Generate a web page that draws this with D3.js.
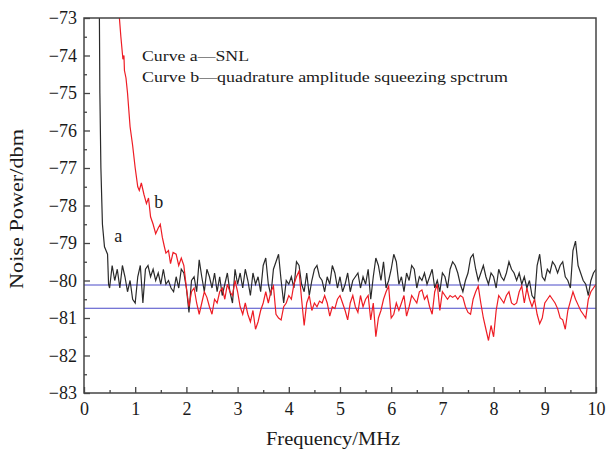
<!DOCTYPE html>
<html><head><meta charset="utf-8">
<script src="https://cdn.jsdelivr.net/npm/d3@7"></script>
<style>body{margin:0;background:#fff} svg text{font-family:"Liberation Serif","Times New Roman",serif !important;}</style>
</head><body>
<script>
const xTicks = [0,1,2,3,4,5,6,7,8,9,10];
const yTicks = [-83,-82,-81,-80,-79,-78,-77,-76,-75,-74,-73];
const xTitle = "Frequency/MHz";
const yTitle = "Noise Power/dbm";
const legendLines = ["Curve a\u2014SNL", "Curve b\u2014quadrature amplitude squeezing spctrum"];
const refLevels = [-80.12, -80.74];

// Curve a (SNL): [MHz, dBm]
const curveA = [
[0.30,-72.8],[0.31,-75],[0.33,-77],[0.36,-78.5],[0.40,-79.1],[0.43,-79.2],[0.46,-79.3],[0.48,-80.1],
[0.50,-80.2],[0.55,-79.6],[0.60,-80.0],[0.65,-79.7],[0.70,-80.2],[0.75,-79.6],[0.80,-79.9],[0.85,-80.3],[0.90,-80.0],[0.95,-80.5],
[1.00,-80.6],[1.05,-79.9],[1.10,-79.6],[1.15,-80.6],[1.20,-79.7],[1.25,-79.6],[1.30,-79.9],[1.35,-79.7],[1.40,-80.0],[1.45,-79.8],
[1.50,-80.1],[1.55,-79.7],[1.60,-80.1],[1.65,-80.0],[1.70,-80.2],[1.75,-80.3],[1.80,-79.9],[1.85,-80.2],[1.90,-79.7],[1.95,-79.8],
[2.00,-80.2],[2.05,-80.85],[2.10,-80.0],[2.15,-79.9],[2.20,-80.3],[2.25,-79.45],[2.30,-79.9],[2.35,-80.3],[2.40,-79.7],[2.45,-79.9],
[2.50,-80.2],[2.55,-79.8],[2.60,-80.3],[2.65,-79.9],[2.70,-80.4],[2.75,-80.1],[2.80,-79.8],[2.85,-80.3],[2.90,-80.6],[2.95,-79.7],
[3.00,-80.1],[3.05,-79.8],[3.10,-80.2],[3.15,-79.7],[3.20,-80.0],[3.25,-80.4],[3.30,-79.8],[3.35,-80.1],[3.40,-79.9],[3.45,-80.3],
[3.50,-79.6],[3.55,-79.4],[3.60,-80.1],[3.65,-80.4],[3.70,-79.7],[3.75,-79.5],[3.80,-79.3],[3.85,-80.0],[3.90,-80.6],[3.95,-80.0],
[4.00,-80.1],[4.05,-79.9],[4.10,-80.2],[4.15,-79.5],[4.20,-79.6],[4.25,-80.1],[4.30,-80.3],[4.35,-79.8],[4.40,-80.4],[4.45,-80.0],
[4.50,-79.7],[4.55,-79.6],[4.60,-79.9],[4.65,-80.0],[4.70,-80.3],[4.75,-79.9],[4.80,-80.1],[4.85,-79.6],[4.90,-79.8],[4.95,-80.2],
[5.00,-79.9],[5.05,-80.3],[5.10,-80.1],[5.15,-79.8],[5.20,-80.3],[5.25,-80.0],[5.30,-79.9],[5.35,-79.8],[5.40,-80.2],[5.45,-79.9],
[5.50,-80.1],[5.55,-79.7],[5.60,-80.5],[5.65,-79.9],[5.70,-79.4],[5.75,-79.6],[5.80,-80.0],[5.85,-79.5],[5.90,-80.2],[5.95,-80.0],
[6.00,-79.7],[6.05,-79.3],[6.10,-79.5],[6.15,-80.1],[6.20,-79.9],[6.25,-80.3],[6.30,-79.8],[6.35,-80.0],[6.40,-79.6],[6.45,-79.7],
[6.50,-80.2],[6.55,-79.9],[6.60,-80.0],[6.65,-79.8],[6.70,-80.1],[6.75,-79.9],[6.80,-79.7],[6.85,-80.2],[6.90,-80.0],[6.95,-80.3],
[7.00,-79.8],[7.05,-79.9],[7.10,-80.2],[7.15,-79.7],[7.20,-79.5],[7.25,-79.6],[7.30,-79.8],[7.35,-80.1],[7.40,-80.3],[7.45,-80.0],
[7.50,-79.8],[7.55,-79.4],[7.60,-79.3],[7.65,-79.7],[7.70,-80.0],[7.75,-79.8],[7.80,-79.6],[7.85,-79.9],[7.90,-80.1],[7.95,-79.8],
[8.00,-79.9],[8.05,-80.2],[8.10,-79.7],[8.15,-79.9],[8.20,-80.0],[8.25,-79.8],[8.30,-79.5],[8.35,-79.7],[8.40,-79.8],[8.45,-80.0],
[8.50,-79.8],[8.55,-80.1],[8.60,-79.9],[8.65,-80.2],[8.70,-80.0],[8.75,-80.4],[8.80,-80.5],[8.85,-79.6],[8.90,-79.3],[8.95,-79.9],
[9.00,-80.0],[9.05,-79.7],[9.10,-79.8],[9.15,-79.5],[9.20,-79.6],[9.25,-79.8],[9.30,-79.6],[9.35,-79.5],[9.40,-79.9],[9.45,-80.0],
[9.50,-80.2],[9.55,-79.2],[9.60,-78.95],[9.65,-79.6],[9.70,-79.8],[9.75,-80.0],[9.80,-80.1],[9.85,-80.4],[9.90,-80.0],[9.95,-79.8],
[10.00,-79.7]
];

// Curve b (squeezing spectrum): [MHz, dBm]
const curveB = [
[0.68,-72.8],[0.72,-73.5],[0.76,-74.1],[0.78,-74.0],[0.79,-74.4],[0.82,-74.6],[0.85,-75.0],[0.90,-75.9],[0.95,-76.4],[1.00,-77.0],
[1.05,-77.5],[1.08,-77.6],[1.12,-77.4],[1.17,-77.7],[1.22,-77.95],[1.26,-77.8],[1.30,-78.3],[1.35,-78.5],[1.40,-78.75],[1.45,-78.6],
[1.49,-78.5],[1.53,-78.85],[1.57,-79.1],[1.60,-79.27],[1.65,-79.2],[1.69,-79.55],[1.74,-79.25],[1.80,-79.3],[1.85,-79.6],[1.90,-79.4],
[1.95,-79.6],[2.00,-80.2],[2.05,-80.7],[2.10,-80.3],[2.15,-80.2],[2.20,-80.6],[2.25,-80.9],[2.30,-80.6],[2.35,-80.3],[2.40,-80.45],
[2.45,-80.7],[2.50,-80.9],[2.55,-80.5],[2.60,-80.6],[2.65,-80.3],[2.70,-80.2],[2.75,-80.5],[2.80,-80.1],[2.85,-80.3],[2.90,-80.4],
[2.95,-80.0],[3.00,-80.3],[3.05,-80.7],[3.10,-80.9],[3.15,-80.6],[3.20,-80.9],[3.25,-81.1],[3.30,-80.8],[3.35,-81.3],[3.40,-81.1],
[3.45,-80.8],[3.50,-80.6],[3.55,-80.3],[3.60,-80.6],[3.65,-80.3],[3.70,-80.15],[3.75,-80.9],[3.80,-81.0],[3.85,-81.05],[3.90,-80.7],
[3.95,-80.6],[4.00,-80.4],[4.05,-80.5],[4.10,-80.1],[4.15,-79.9],[4.20,-79.75],[4.25,-80.5],[4.30,-81.2],[4.35,-80.6],[4.40,-80.4],
[4.45,-80.8],[4.50,-80.6],[4.55,-80.7],[4.60,-80.55],[4.65,-80.6],[4.70,-80.4],[4.75,-80.6],[4.80,-80.95],[4.85,-80.7],[4.90,-80.75],
[4.95,-80.5],[5.00,-80.4],[5.05,-80.6],[5.10,-80.8],[5.15,-81.05],[5.20,-80.6],[5.25,-80.4],[5.30,-80.7],[5.35,-80.85],[5.40,-80.4],
[5.45,-80.7],[5.50,-80.5],[5.55,-80.4],[5.60,-81.05],[5.65,-80.6],[5.70,-81.5],[5.75,-81.0],[5.80,-80.8],[5.85,-80.5],[5.90,-80.3],
[5.95,-80.15],[6.00,-81.0],[6.05,-80.9],[6.10,-80.6],[6.15,-80.8],[6.20,-80.6],[6.25,-80.4],[6.30,-80.95],[6.35,-80.7],[6.40,-80.4],
[6.45,-80.5],[6.50,-80.6],[6.55,-80.3],[6.60,-80.25],[6.65,-80.5],[6.70,-80.4],[6.75,-80.7],[6.80,-80.9],[6.85,-80.3],[6.90,-80.1],
[6.95,-80.8],[7.00,-80.3],[7.05,-80.4],[7.10,-80.5],[7.15,-80.4],[7.20,-80.45],[7.25,-80.4],[7.30,-80.5],[7.35,-80.4],[7.40,-80.45],
[7.45,-80.7],[7.50,-80.85],[7.55,-80.9],[7.60,-80.5],[7.65,-80.3],[7.70,-80.15],[7.75,-80.6],[7.80,-81.0],[7.85,-81.3],[7.90,-81.6],
[7.95,-81.2],[8.00,-81.5],[8.05,-80.8],[8.10,-80.4],[8.15,-80.5],[8.20,-80.6],[8.25,-80.4],[8.30,-80.3],[8.35,-80.6],[8.40,-80.65],
[8.45,-80.6],[8.50,-80.3],[8.55,-80.15],[8.60,-80.6],[8.65,-80.2],[8.70,-80.5],[8.75,-80.7],[8.80,-80.5],[8.85,-80.9],[8.90,-81.15],
[8.95,-81.0],[9.00,-80.6],[9.05,-80.5],[9.10,-80.4],[9.15,-80.5],[9.20,-80.6],[9.25,-80.75],[9.30,-81.0],[9.35,-81.05],[9.40,-81.3],
[9.45,-80.8],[9.50,-80.55],[9.55,-80.3],[9.60,-80.5],[9.65,-80.65],[9.70,-80.8],[9.75,-80.9],[9.80,-81.0],[9.85,-80.5],[9.90,-80.3],
[9.95,-80.2],[10.00,-80.1]
];

const W = 606, H = 450;
const m = {left:84, right:10, top:18, bottom:57};
const FONT = "'Liberation Serif','Times New Roman',serif";
const svg = d3.select("body").append("svg").attr("width",W).attr("height",H)
  .attr("font-family",FONT);

const x = d3.scaleLinear().domain([0,10]).range([m.left, W-m.right]);
const y = d3.scaleLinear().domain([-83,-73]).range([H-m.bottom, m.top]);

svg.append("clipPath").attr("id","clip").append("rect")
  .attr("x",x(0)).attr("y",y(-73)).attr("width",x(10)-x(0)).attr("height",y(-83)-y(-73));

const g = svg.append("g").attr("clip-path","url(#clip)");

g.selectAll("line.ref").data(refLevels).enter().append("line")
  .attr("x1",x(0)).attr("x2",x(10)).attr("y1",d=>y(d)).attr("y2",d=>y(d))
  .attr("stroke","#4a4ac8").attr("stroke-width",1);

const line = d3.line().x(d=>x(d[0])).y(d=>y(d[1]));
g.append("path").datum(curveA).attr("d",line).attr("fill","none").attr("stroke","#2a2a2a").attr("stroke-width",1.2);
g.append("path").datum(curveB).attr("d",line).attr("fill","none").attr("stroke","#ee1c24").attr("stroke-width",1.2);

// Axes with inward ticks
const fmt = d => (d<0 ? "\u2212"+Math.abs(d) : String(d));
const xAxis = d3.axisBottom(x).tickValues(xTicks).tickSizeInner(-6).tickSizeOuter(0).tickPadding(9).tickFormat(fmt);
const xMinor = d3.axisBottom(x).tickValues(d3.range(0.5,10,1)).tickSizeInner(-3).tickSizeOuter(0).tickFormat("");
const yAxis = d3.axisLeft(y).tickValues(yTicks).tickSizeInner(-6).tickSizeOuter(0).tickPadding(7).tickFormat(fmt);
const yMinor = d3.axisLeft(y).tickValues(d3.range(-82.5,-73,1)).tickSizeInner(-3).tickSizeOuter(0).tickFormat("");

function style(sel){
  sel.attr("font-family",FONT).attr("font-size",18);
  sel.select(".domain").remove();
  sel.selectAll("line").attr("stroke","#444").attr("stroke-width",1.3);
  sel.selectAll("text").attr("fill","#1a1a1a");
}
svg.append("g").attr("transform",`translate(0,${y(-83)})`).call(xAxis).call(style);
svg.append("g").attr("transform",`translate(0,${y(-83)})`).call(xMinor).call(style);
svg.append("g").attr("transform",`translate(${x(0)},0)`).call(yAxis).call(style);
svg.append("g").attr("transform",`translate(${x(0)},0)`).call(yMinor).call(style);

// frame
svg.append("rect").attr("x",x(0)).attr("y",y(-73)).attr("width",x(10)-x(0)).attr("height",y(-83)-y(-73))
  .attr("fill","none").attr("stroke","#444").attr("stroke-width",1.5);

// titles
svg.append("text").attr("x",333).attr("y",445).attr("text-anchor","middle")
  .attr("font-size",18).attr("textLength",134).attr("lengthAdjust","spacingAndGlyphs").attr("fill","#1a1a1a").text(xTitle);
svg.append("text").attr("transform",`translate(23,209) rotate(-90)`).attr("text-anchor","middle")
  .attr("font-size",18).attr("textLength",160).attr("lengthAdjust","spacingAndGlyphs").attr("fill","#1a1a1a").text(yTitle);

// legend text
const legW = [107, 366];
svg.selectAll("text.leg").data(legendLines).enter().append("text")
  .attr("x",142).attr("y",(d,i)=>61+i*20.5).attr("font-size",14.5)
  .attr("textLength",(d,i)=>legW[i]).attr("lengthAdjust","spacingAndGlyphs")
  .attr("fill","#1a1a1a").text(d=>d);

// curve labels
svg.append("text").attr("x",x(0.59)).attr("y",y(-78.97)).attr("font-size",18).attr("fill","#1a1a1a").text("a");
svg.append("text").attr("x",x(1.37)).attr("y",y(-78.07)).attr("font-size",18).attr("fill","#1a1a1a").text("b");
</script>
</body></html>
